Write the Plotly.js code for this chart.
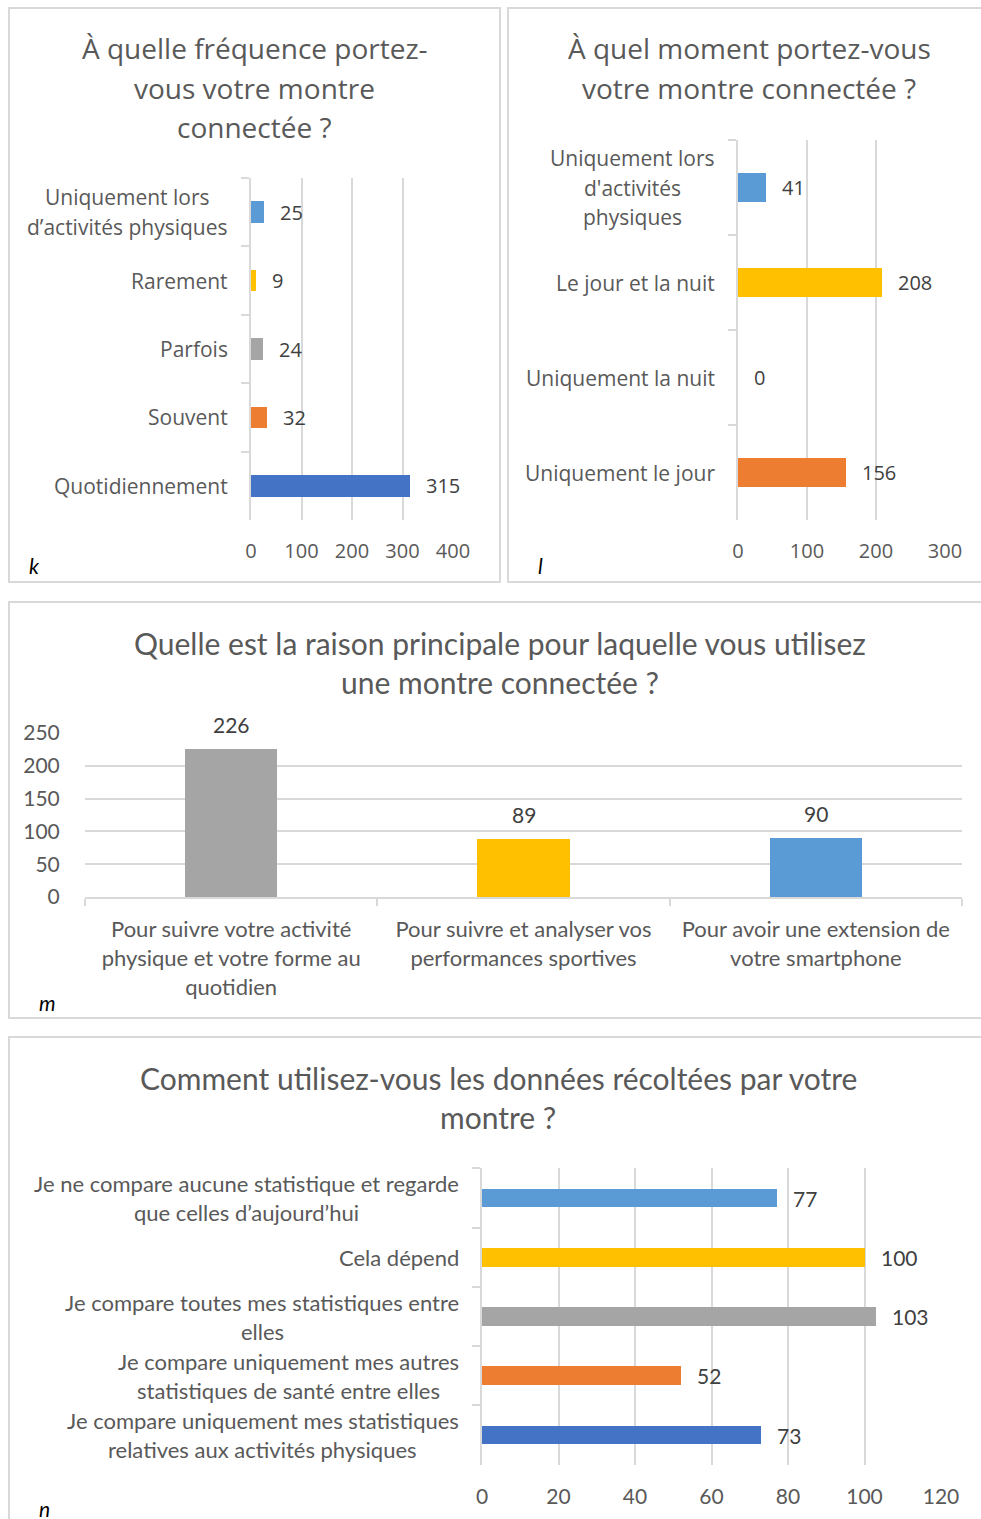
<!DOCTYPE html>
<html>
<head>
<meta charset="utf-8">
<script src="https://cdn.plot.ly/plotly-3.0.1.min.js"></script>
<style>
  html, body { margin: 0; padding: 0; background: #ffffff; }
  #chart { width: 981px; height: 1519px; }
</style>
</head>
<body>
<div id="chart"></div>
<script>
// ---------- Data ----------
// Panel k
const kTitle = "À quelle fréquence portez-<br>vous votre montre<br>connectée ?";
const kCategories = ["Uniquement lors d’activités physiques", "Rarement", "Parfois", "Souvent", "Quotidiennement"];
const kLabels = ["Uniquement lors<br>d’activités physiques", "Rarement", "Parfois", "Souvent", "Quotidiennement"];
const kValues = [25, 9, 24, 32, 315];
const kTicks = [0, 100, 200, 300, 400];

// Panel l
const lTitle = "À quel moment portez-vous<br>votre montre connectée ?";
const lCategories = ["Uniquement lors d'activités physiques", "Le jour et la nuit", "Uniquement la nuit", "Uniquement le jour"];
const lLabels = ["Uniquement lors<br>d'activités<br>physiques", "Le jour et la nuit", "Uniquement la nuit", "Uniquement le jour"];
const lValues = [41, 208, 0, 156];
const lTicks = [0, 100, 200, 300];

// Panel m
const mTitle = "Quelle est la raison principale pour laquelle vous utilisez<br>une montre connectée ?";
const mCategories = ["Pour suivre votre activité physique et votre forme au quotidien", "Pour suivre et analyser vos performances sportives", "Pour avoir une extension de votre smartphone"];
const mLabels = ["Pour suivre votre activité<br>physique et votre forme au<br>quotidien", "Pour suivre et analyser vos<br>performances sportives", "Pour avoir une extension de<br>votre smartphone"];
const mValues = [226, 89, 90];
const mTicks = [0, 50, 100, 150, 200, 250];

// Panel n
const nTitle = "Comment utilisez-vous les données récoltées par votre<br>montre ?";
const nCategories = ["Je ne compare aucune statistique et regarde que celles d’aujourd’hui", "Cela dépend", "Je compare toutes mes statistiques entre elles", "Je compare uniquement mes autres statistiques de santé entre elles", "Je compare uniquement mes statistiques relatives aux activités physiques"];
const nLabels = ["Je ne compare aucune statistique et regarde<br>que celles d’aujourd’hui", "Cela dépend", "Je compare toutes mes statistiques entre<br>elles", "Je compare uniquement mes autres<br>statistiques de santé entre elles", "Je compare uniquement mes statistiques<br>relatives aux activités physiques"];
const nValues = [77, 100, 103, 52, 73];
const nTicks = [0, 20, 40, 60, 80, 100, 120];

const panelLetters = ["k", "l", "m", "n"];

// ---------- Styles ----------
const W = 981, H = 1519;
const px = v => v / W;
const py = v => 1 - v / H;

const BLUE = "#5B9BD5", GOLD = "#FFC000", GREY = "#A5A5A5", ORANGE = "#ED7D31", DBLUE = "#4472C4";
const kColors = [BLUE, GOLD, GREY, ORANGE, DBLUE];
const lColors = [BLUE, GOLD, GREY, ORANGE];
const mColors = [GREY, GOLD, BLUE];
const nColors = [BLUE, GOLD, GREY, ORANGE, DBLUE];

const FONT_A = "'Open Sans', 'Noto Sans', sans-serif";
const FONT_B = "Lato, 'Open Sans', sans-serif";
const TXT = "#595959", LBL = "#404040", GRID = "#D9D9D9";
const BW = 0.315;

const traces = [
  { type: "bar", orientation: "h", x: kValues, y: kCategories, xaxis: "x", yaxis: "y",
    width: BW, marker: { color: kColors }, hoverinfo: "x+y" },
  { type: "bar", orientation: "h", x: lValues, y: lCategories, xaxis: "x2", yaxis: "y2",
    width: BW, marker: { color: lColors }, hoverinfo: "x+y" },
  { type: "bar", x: mCategories, y: mValues, xaxis: "x3", yaxis: "y3",
    width: BW, marker: { color: mColors }, hoverinfo: "x+y" },
  { type: "bar", orientation: "h", x: nValues, y: nCategories, xaxis: "x4", yaxis: "y4",
    width: BW, marker: { color: nColors }, hoverinfo: "x+y" }
];

function valAxis(domain, range, ticks, font, size, anchor) {
  return {
    domain: domain, range: range, tickvals: ticks, anchor: anchor,
    showgrid: true, gridcolor: GRID, gridwidth: 2,
    zeroline: false, showline: false,
    ticks: "outside", ticklen: 13, tickcolor: "rgba(0,0,0,0)",
    tickfont: { family: font, size: size, color: TXT },
    fixedrange: true
  };
}
function catAxisH(domain, anchor) {
  return {
    domain: domain, type: "category", autorange: "reversed", anchor: anchor,
    showline: true, linecolor: GRID, linewidth: 2,
    ticks: "outside", tickson: "boundaries", ticklen: 8, tickcolor: GRID, tickwidth: 2,
    showticklabels: false, showgrid: false, zeroline: false, fixedrange: true
  };
}

const layout = {
  width: W, height: H,
  margin: { l: 0, r: 0, t: 0, b: 0 },
  paper_bgcolor: "#ffffff", plot_bgcolor: "rgba(0,0,0,0)",
  showlegend: false, bargap: 0,
  xaxis: valAxis([px(251), px(453)], [0, 400], kTicks, FONT_A, 20, "y"),
  yaxis: catAxisH([py(520), py(178)], "x"),
  xaxis2: valAxis([px(738), px(945)], [0, 300], lTicks, FONT_A, 20, "y2"),
  yaxis2: catAxisH([py(520), py(140)], "x2"),
  xaxis3: {
    domain: [px(85), px(962)], type: "category", anchor: "y3",
    tickvals: mCategories, ticktext: mLabels,
    showline: true, linecolor: GRID, linewidth: 2,
    ticks: "outside", tickson: "boundaries", ticklen: 7, tickcolor: GRID, tickwidth: 2,
    ticklabelstandoff: 12,
    tickfont: { family: FONT_B, size: 22, color: TXT },
    showgrid: false, zeroline: false, fixedrange: true
  },
  yaxis3: {
    domain: [py(897), py(733)], range: [0, 250], tickvals: mTicks, anchor: "x3",
    showgrid: true, gridcolor: GRID, gridwidth: 2, zeroline: false, showline: false,
    ticks: "outside", ticklen: 20, tickcolor: "rgba(0,0,0,0)",
    tickfont: { family: FONT_B, size: 21, color: TXT }, fixedrange: true
  },
  xaxis4: valAxis([px(482), px(941)], [0, 120], nTicks, FONT_B, 21, "y4"),
  yaxis4: catAxisH([py(1465), py(1168)], "x4"),
  shapes: [],
  annotations: []
};

// Panel borders
const borders = [[9, 8, 500, 582], [508, 8, 990, 582], [9, 602, 990, 1018], [9, 1037, 990, 1530]];
borders.forEach(b => layout.shapes.push({
  type: "rect", xref: "paper", yref: "paper",
  x0: px(b[0]), x1: px(b[2]), y0: py(b[3]), y1: py(b[1]),
  line: { color: GRID, width: 2 }, fillcolor: "rgba(0,0,0,0)", layer: "below"
}));

// Titles, one annotation per line so the line spacing matches
function title(text, cx, firstY, spacing, font, size) {
  text.split("<br>").forEach((line, j) => layout.annotations.push({
    text: line, xref: "paper", yref: "paper", x: px(cx), y: py(firstY + j * spacing),
    xanchor: "center", yanchor: "middle", align: "center", showarrow: false,
    font: { family: font, size: size, color: TXT } }));
}
title(kTitle, 255, 48, 39.5, FONT_A, 28);
title(lTitle, 749, 48, 40, FONT_A, 28);
title(mTitle, 500, 643, 39, FONT_B, 30);
title(nTitle, 498, 1078, 39, FONT_B, 30);

// Data labels
function hLabels(cats, vals, xref, yref, font, size) {
  cats.forEach((c, i) => layout.annotations.push({
    text: String(vals[i]), xref: xref, yref: yref, x: vals[i], y: c,
    xanchor: "left", yanchor: "middle", xshift: 14, showarrow: false,
    font: { family: font, size: size, color: LBL }
  }));
}
hLabels(kCategories, kValues, "x", "y", FONT_A, 20);
hLabels(lCategories, lValues, "x2", "y2", FONT_A, 20);
hLabels(nCategories, nValues, "x4", "y4", FONT_B, 21);
mCategories.forEach((c, i) => layout.annotations.push({
  text: String(mValues[i]), xref: "x3", yref: "y3", x: c, y: mValues[i],
  xanchor: "center", yanchor: "bottom", yshift: 10, showarrow: false,
  font: { family: FONT_B, size: 21, color: LBL }
}));

// Panel letters
const letterPos = [[34, 566], [540, 566], [47, 1002], [44, 1508]];
panelLetters.forEach((t, i) => layout.annotations.push({
  text: "<i>" + t + "</i>", xref: "paper", yref: "paper",
  x: px(letterPos[i][0]), y: py(letterPos[i][1]), xanchor: "center", yanchor: "middle",
  showarrow: false, font: { family: FONT_B, size: 21, color: "#000000" }
}));

// Category labels: block right-anchored at the axis, lines centred on each other
const ctx = document.createElement("canvas").getContext("2d");
function catLabels(cats, labels, yref, rightPx, spacing, font, size) {
  ctx.font = size + "px " + font;
  cats.forEach((c, i) => {
    const lines = labels[i].split("<br>");
    const widths = lines.map(s => ctx.measureText(s).width);
    const maxW = Math.max.apply(null, widths);
    const n = lines.length;
    lines.forEach((s, j) => layout.annotations.push({
      text: s, xref: "paper", yref: yref, x: px(rightPx), y: c,
      xanchor: "right", yanchor: "middle", showarrow: false,
      xshift: -(maxW - widths[j]) / 2, yshift: -(j - (n - 1) / 2) * spacing,
      font: { family: font, size: size, color: TXT }
    }));
  });
}

function draw() {
  catLabels(kCategories, kLabels, "y", 230, 30, FONT_A, 21);
  catLabels(lCategories, lLabels, "y2", 717, 29.5, FONT_A, 21);
  catLabels(nCategories, nLabels, "y4", 461, 29, FONT_B, 22);
  Plotly.newPlot("chart", traces, layout, { staticPlot: true, displayModeBar: false });
}
if (document.fonts && document.fonts.load) {
  Promise.all([
    document.fonts.load("21px 'Open Sans'"),
    document.fonts.load("22px Lato")
  ]).then(draw, draw);
} else {
  draw();
}
</script>
</body>
</html>
